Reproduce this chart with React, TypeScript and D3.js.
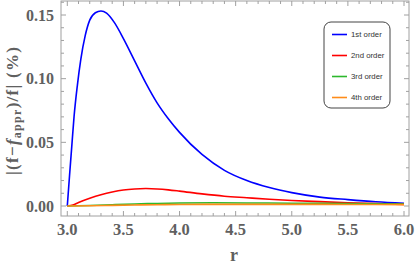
import React from "react";
import * as d3 from "d3";

const rGrid1 = [3.0, 3.02, 3.04, 3.06, 3.09, 3.12, 3.16, 3.2, 3.25, 3.3, 3.35, 3.42, 3.5, 3.6, 3.7, 3.8, 3.9, 4.0, 4.2, 4.4, 4.6, 4.8, 5.0, 5.25, 5.5, 5.75, 6.0];
const first = [0, 0.024, 0.047, 0.07, 0.095, 0.115, 0.134, 0.146, 0.1518, 0.1532, 0.1515, 0.144, 0.1315, 0.114, 0.0965, 0.081, 0.0685, 0.0578, 0.0405, 0.028, 0.02, 0.0145, 0.0105, 0.007, 0.005, 0.0033, 0.0021];

const rGrid2 = [3.0, 3.05, 3.1, 3.2, 3.3, 3.4, 3.5, 3.6, 3.7, 3.8, 3.9, 4.0, 4.2, 4.4, 4.6, 4.8, 5.0, 5.25, 5.5, 5.75, 6.0];
const second = [0, 0.0008, 0.0027, 0.006, 0.0088, 0.011, 0.0126, 0.0134, 0.0137, 0.0134, 0.0127, 0.0117, 0.0095, 0.0077, 0.0065, 0.0053, 0.0043, 0.0034, 0.0026, 0.0019, 0.0013];

const rGrid3 = [3.0, 3.2, 3.4, 3.6, 3.8, 4.0, 4.3, 4.6, 5.0, 5.5, 6.0];
const third = [0, 0.0004, 0.001, 0.0016, 0.002, 0.0023, 0.0025, 0.0024, 0.0022, 0.0019, 0.0016];

const rGrid4 = [3.0, 3.2, 3.4, 3.6, 3.8, 4.0, 4.4, 5.0, 5.5, 6.0];
const fourth = [0, 0.0002, 0.0005, 0.0008, 0.001, 0.0012, 0.0013, 0.0013, 0.0012, 0.0011];

const xTicks = [3.0, 3.5, 4.0, 4.5, 5.0, 5.5, 6.0];
const yTicks = [0.0, 0.05, 0.1, 0.15];
const legendLabels = ["1st order", "2nd order", "3rd order", "4th order"];
const colors = ["#0000ff", "#ff0000", "#2db82d", "#ff8c1a"];

export default function App() {
  const W = 415, H = 264;
  const left = 61, right = 409, top = 1, bottom = 216;
  const x = d3.scaleLinear().domain([3, 6]).range([67.3, 404]);
  const y = d3.scaleLinear().domain([0, 0.15]).range([206, 15]);
  const line = d3
    .line<[number, number]>()
    .x((d) => x(d[0]))
    .y((d) => y(d[1]))
    .curve(d3.curveMonotoneX);
  const series: [number[], number[]][] = [
    [rGrid1, first],
    [rGrid2, second],
    [rGrid3, third],
    [rGrid4, fourth],
  ];
  const xMinor = d3.range(29, 61).map((v) => v / 10).filter((v) => v >= 2.95 && v <= 6.04);
  const yMinor = d3.range(0, 17).map((v) => v / 100);
  const axisColor = "#a0a0a0";
  const labelColor = "#606060";
  const font = "'Liberation Serif', 'Times New Roman', serif";
  const isMajorX = (v: number) => Math.abs(v * 2 - Math.round(v * 2)) < 1e-6;
  const isMajorY = (v: number) => Math.abs(v * 20 - Math.round(v * 20)) < 1e-6;

  return (
    <svg width={W} height={H} style={{ position: "absolute", left: 0, top: 0 }}>
      <rect x={0} y={0} width={W} height={H} fill="#fff" />
      <rect x={left} y={top} width={right - left} height={bottom - top} fill="none" stroke={axisColor} strokeWidth={1} />
      {xMinor.map((v, i) => {
        const len = isMajorX(v) ? 5 : 3;
        return (
          <g key={"xt" + i}>
            <line x1={x(v)} x2={x(v)} y1={bottom} y2={bottom - len} stroke={axisColor} />
            <line x1={x(v)} x2={x(v)} y1={top} y2={top + len} stroke={axisColor} />
          </g>
        );
      })}
      {yMinor.map((v, i) => {
        const len = isMajorY(v) ? 5 : 3;
        return (
          <g key={"yt" + i}>
            <line x1={left} x2={left + len} y1={y(v)} y2={y(v)} stroke={axisColor} />
            <line x1={right} x2={right - len} y1={y(v)} y2={y(v)} stroke={axisColor} />
          </g>
        );
      })}
      {xTicks.map((v) => (
        <text key={"xl" + v} x={x(v)} y={235} textAnchor="middle" fontFamily={font} fontWeight="bold" fontSize={16.5} fill={labelColor}>
          {v.toFixed(1)}
        </text>
      ))}
      {yTicks.map((v) => (
        <text key={"yl" + v} x={54} y={y(v) + 5.5} textAnchor="end" fontFamily={font} fontWeight="bold" fontSize={16} fill={labelColor}>
          {v.toFixed(2)}
        </text>
      ))}
      <text x={234} y={261} textAnchor="middle" fontFamily={font} fontWeight="bold" fontSize={18} fill={labelColor}>
        r
      </text>
      <text
        transform="translate(18,111) rotate(-90)"
        textAnchor="middle"
        fontFamily={font}
        fontWeight="bold"
        fontSize={17}
        fill={labelColor}
        textLength={128}
        lengthAdjust="spacing"
      >
        <tspan>|(f−</tspan>
        <tspan fontStyle="italic">f</tspan>
        <tspan fontSize={12} dy={3}>appr</tspan>
        <tspan dy={-3}>)/f| (%)</tspan>
      </text>
      <g>
        {series.map(([rs, vs], i) => (
          <path
            key={"s" + i}
            d={line(rs.map((r, j) => [r, vs[j]] as [number, number])) || ""}
            fill="none"
            stroke={colors[i]}
            strokeWidth={1.6}
          />
        ))}
      </g>
      <rect x={324} y={22} width={66} height={86} rx={7} ry={7} fill="#fff" stroke="#444" strokeWidth={1} />
      {legendLabels.map((lab, i) => {
        const ly = 34.5 + i * 21;
        return (
          <g key={"lg" + i}>
            <line x1={332} x2={347} y1={ly} y2={ly} stroke={colors[i]} strokeWidth={1.6} />
            <text x={351} y={ly + 2.8} fontFamily="'Liberation Sans', Arial, sans-serif" fontSize={7.8} fill="#333">
              {lab}
            </text>
          </g>
        );
      })}
    </svg>
  );
}
